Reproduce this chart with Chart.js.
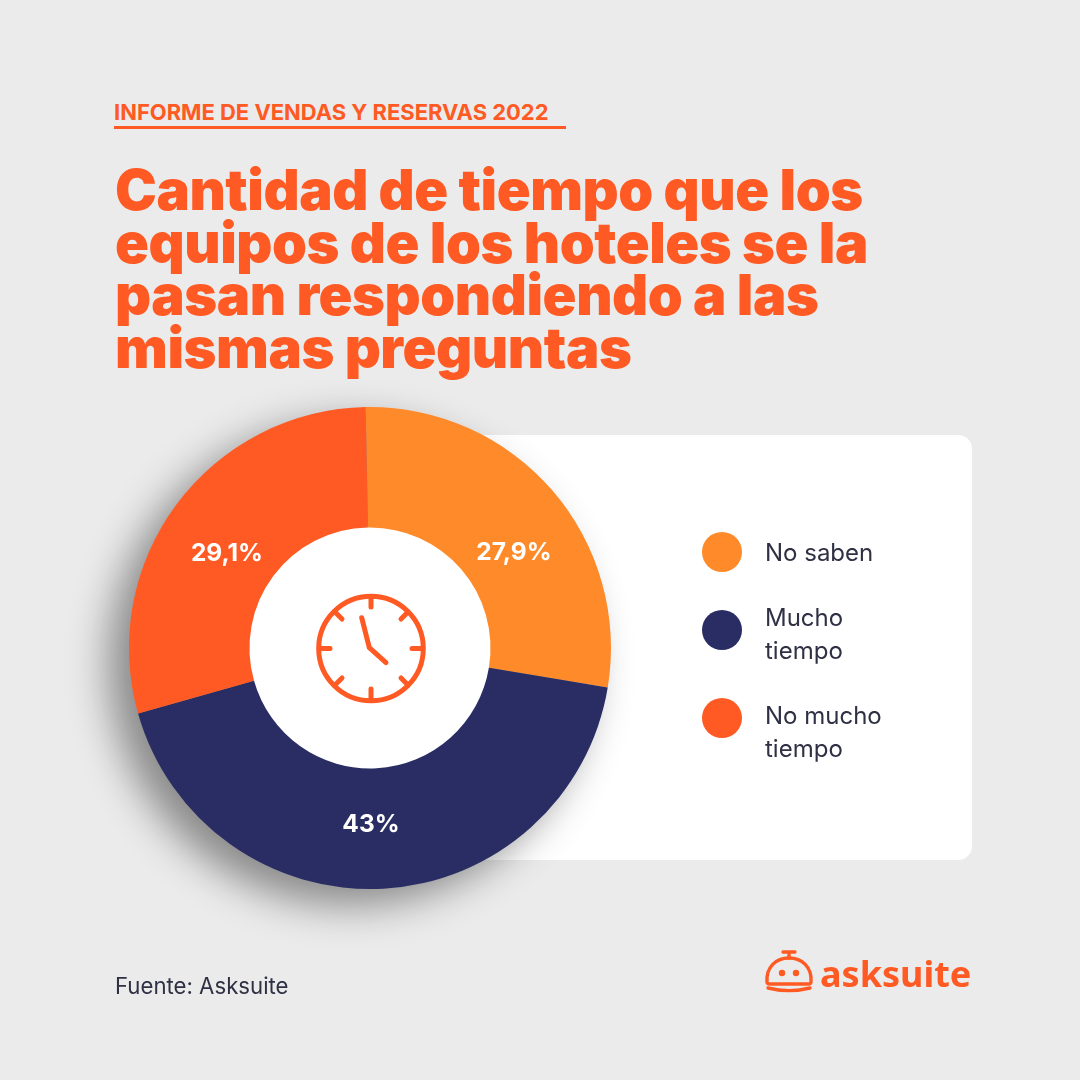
<!DOCTYPE html>
<html><head><meta charset="utf-8">
<script src="https://cdn.jsdelivr.net/npm/chart.js@4/dist/chart.umd.min.js"></script>
<style>
html,body{margin:0;padding:0;width:1080px;height:1080px;background:#ebebeb;overflow:hidden;font-family:Inter,sans-serif}
.abs{position:absolute}
#kicker{left:114px;top:98px;font-size:21.95px;font-weight:700;color:#ff5a23;line-height:28px;white-space:nowrap}
#rule{left:114px;top:126px;width:452px;height:3px;background:#ff5a23}
#title{left:115px;top:164px;font-size:56px;font-weight:900;line-height:52.6px;color:#ff5a23;white-space:nowrap;letter-spacing:-.43px}
#card{left:400px;top:435px;width:572px;height:425px;background:#fff;border-radius:14px}
#wrap{left:0;top:0;width:1080px;height:1080px}
#wrap canvas{filter:drop-shadow(-20px 16px 20px rgba(0,0,0,.42))}
.sw{position:absolute;left:702px;width:40px;height:40px;border-radius:50%}
.lg{position:absolute;left:765px;font-size:24px;line-height:33px;color:#2f3044;white-space:nowrap}
#src{left:115px;top:971px;font-size:22.2px;line-height:30px;color:#2f3044}
#logotext{left:820px;top:949px;font-family:"Noto Sans",sans-serif;font-size:36px;font-weight:700;line-height:50px;color:#ff5a23;white-space:nowrap}
</style></head>
<body>
<div id="kicker" class="abs">INFORME DE VENDAS Y RESERVAS 2022</div>
<div id="rule" class="abs"></div>
<div id="title" class="abs">Cantidad de tiempo que los<br>equipos de los hoteles se la<br>pasan respondiendo a las<br>mismas preguntas</div>
<div id="card" class="abs"></div>
<div id="wrap" class="abs"><canvas id="c" width="1080" height="1080"></canvas></div>
<svg class="abs" style="left:300px;top:580px" width="140" height="130" viewBox="0 0 140 130" fill="none" stroke="#ff5a23" stroke-width="5" stroke-linecap="round" stroke-linejoin="round">
<circle cx="71" cy="68.5" r="52.3"/>
<path d="M71 17v10M71 109v10M20 68.5h10M112 68.5h10M36 33l6 6M107 33l-6 6M36 104l6-6M107 104l-6-6"/>
<path d="M61.7 37.7L69.3 67.7L86 82.7"/>
</svg>
<div id="legend"></div>
<div id="src" class="abs">Fuente: Asksuite</div>
<svg class="abs" style="left:760px;top:945px" width="60" height="52" viewBox="0 0 60 52" fill="none" stroke="#ff5a23" stroke-width="3.4" stroke-linecap="round" stroke-linejoin="round">
<path d="M29 8V13M23 7h12"/>
<path d="M7 37C6 22 16 13 29 13S52 22 51 37Q51 39 48 39H10Q7 39 7 37Z"/>
<path d="M8 43c14 3.5 28 3.5 42 0"/>
<circle cx="22" cy="28" r="3.2" fill="#ff5a23" stroke="none"/>
<circle cx="36" cy="28" r="3.2" fill="#ff5a23" stroke="none"/>
</svg>
<div id="logotext" class="abs">asksuite</div>
<script>
const categories=["No saben","Mucho tiempo","No mucho tiempo"];
const legendLines=[["No saben"],["Mucho","tiempo"],["No mucho","tiempo"]];
const values=[27.9,43,29.1];
const valueLabels=["27,9%","43%","29,1%"];
const colors=["#ff8a29","#2a2d63","#ff5a23"];
const swatchTops=[532,610,698];
const textTops=[536,601,699];
const labelNudgeX=[7,-9,2];
const labelNudgeY=[23,-4,13];

const lg=document.getElementById('legend');
categories.forEach((c,i)=>{
  const s=document.createElement('div');s.className='sw';s.style.top=swatchTops[i]+'px';s.style.background=colors[i];lg.appendChild(s);
  const t=document.createElement('div');t.className='lg';t.style.top=textTops[i]+'px';t.innerHTML=legendLines[i].join('<br>');lg.appendChild(t);
});

const sliceLabels={id:'sliceLabels',afterDatasetsDraw(chart){
  const {ctx}=chart;const meta=chart.getDatasetMeta(0);
  ctx.save();ctx.fillStyle='#fff';ctx.font='700 24.5px Inter, sans-serif';ctx.textAlign='center';ctx.textBaseline='middle';
  meta.data.forEach((arc,i)=>{const p=arc.tooltipPosition();ctx.fillText(valueLabels[i],p.x+labelNudgeX[i],p.y+labelNudgeY[i]);});
  ctx.restore();
}};
const centerHole={id:'centerHole',beforeDatasetsDraw(chart){
  const arc=chart.getDatasetMeta(0).data[0];const {ctx}=chart;
  ctx.save();ctx.fillStyle='#fff';ctx.beginPath();ctx.arc(arc.x,arc.y,arc.innerRadius+1,0,Math.PI*2);ctx.fill();ctx.restore();
}};
new Chart(document.getElementById('c'),{
  type:'doughnut',
  data:{labels:categories,datasets:[{data:values,backgroundColor:colors,borderWidth:0,hoverOffset:0}]},
  options:{responsive:false,animation:false,rotation:-1,cutout:'50%',
    layout:{padding:{left:129,right:469,top:407,bottom:191}},
    plugins:{legend:{display:false},tooltip:{enabled:false}}},
  plugins:[centerHole,sliceLabels]
});
</script>
</body></html>
